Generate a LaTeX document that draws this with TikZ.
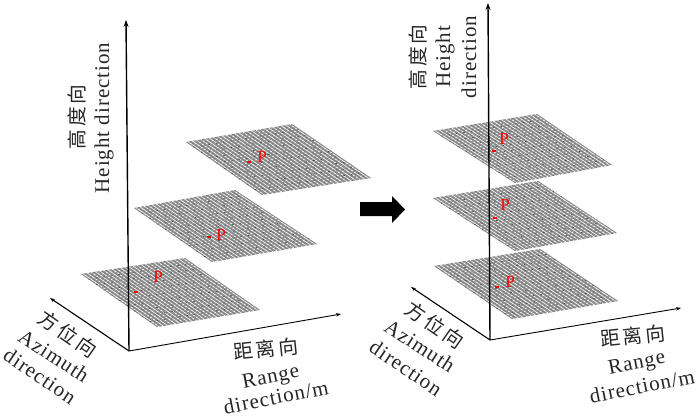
\documentclass[tikz,border=0pt]{standalone}
\usepackage{fontspec}
\setmainfont{Liberation Serif}[LetterSpace=4.5]
\newfontfamily\cjk{Noto Sans CJK SC}[Scale=0.94]
\newcommand{\cjkgap}{\kern3pt\relax}
\usetikzlibrary{arrows.meta,calc}
\tikzset{
  axisline/.style={draw=black,line width=1.4pt,-{Stealth[length=7pt,width=5pt]}},
  thinaxis/.style={draw=black,line width=#1,-{Stealth[length=5pt,width=3.5pt]}},
  lbl/.style={font=\fontsize{21}{24}\selectfont,inner sep=0pt,align=center,text=black!85},
  redp/.style={font=\fontsize{17}{17}\selectfont,text=red,inner sep=0pt},
  reddot/.style={fill=red,draw=none,inner sep=0pt,minimum width=4.5pt,minimum height=1.8pt,rectangle}
}
\newcommand{\meshplane}[4]{%
  \fill[black!50] (#1)--(#2)--(#3)--(#4)--cycle;
  \foreach \t in {0.02,0.06,...,1}{%
    \draw[white,line width=.85pt] ($(#1)!\t!(#2)$)--($(#4)!\t!(#3)$);
  }
  \foreach \t in {0.02,0.06,...,1}{%
    \draw[black!40,line width=.6pt] ($(#1)!\t!(#4)$)--($(#2)!\t!(#3)$);
  }
  \foreach \t in {0.1,0.2,...,0.95}{%
    \draw[black!80,line width=.5pt,dash pattern=on 1.5pt off 6pt] ($(#1)!\t!(#4)$)--($(#2)!\t!(#3)$);
  }
}
\begin{document}
\begin{tikzpicture}[x=1pt,y=-1pt]
\useasboundingbox (0,0) rectangle (700,415);
% left planes
\meshplane{81,274}{185,258}{260,310}{157,327}
\meshplane{134,208}{235,190}{317,244}{212,262}
\meshplane{186,142}{292,124}{371,178}{262,195}
% right planes
\meshplane{433,131}{537,114}{612,165}{515,183}
\meshplane{433,198}{538,181}{617,233}{515,251}
\meshplane{434,266}{540,249}{618,301}{512,319}
% left axes
\coordinate (oL) at (129,351);
\coordinate (hL) at (126,20);
\coordinate (aL) at (50,298);
\coordinate (rL) at (341,314);
\draw[axisline] (oL)--(hL);
\draw[thinaxis=1.1pt] (oL)--(aL);
\draw[thinaxis=.9pt] (oL)--(rL);
% right axes
\coordinate (oR) at (490,340);
\coordinate (hR) at (488,3);
\coordinate (aR) at (411,287);
\coordinate (rR) at (681,308);
\draw[axisline] (oR)--(hR);
\draw[thinaxis=1.1pt] (oR)--(aR);
\draw[thinaxis=.9pt] (oR)--(rR);
% points left
\node[reddot] (p1) at (136,292) {};
\node[redp] (P1) at (158,277) {P};
\node[reddot] (p2) at (209,237) {};
\node[redp] (P2) at (221,235) {P};
\node[reddot] (p3) at (249,162) {};
\node[redp] (P3) at (262,157) {P};
% points right
\node[reddot] (p4) at (494,151) {};
\node[redp] (P4) at (504,139) {P};
\node[reddot] (p5) at (495,218) {};
\node[redp] (P5) at (505,205) {P};
\node[reddot] (p6) at (497,287) {};
\node[redp] (P6) at (510,282) {P};
% big arrow
\fill[black] (360,202)--(392,202)--(392,196)--(405,209.5)--(392,223)--(392,216)--(360,216)--cycle;
% labels left
\node[lbl,rotate=90] (hL1) at (77,117) {{\cjk 高\cjkgap 度\cjkgap 向}};
\node[lbl,rotate=90] (hL2) at (104,118) {Height direction};
\node[lbl,rotate=-35] (aL1) at (68,334) {{\cjk 方\cjkgap 位\cjkgap 向}};
\node[lbl,rotate=-33] (aL2) at (54,356) {Azimuth};
\node[lbl,rotate=-34] (aL3) at (40,376) {direction};
\node[lbl,rotate=6] (rL1) at (266,349) {{\cjk 距\cjkgap 离\cjkgap 向}};
\node[lbl,rotate=11] (rL2) at (271,378) {Range};
\node[lbl,rotate=11] (rL3) at (276,397) {direction/m};
% labels right
\node[lbl,rotate=90] (hR1) at (418,57) {{\cjk 高\cjkgap 度\cjkgap 向}};
\node[lbl,rotate=90] (hR2) at (445,57) {Height};
\node[lbl,rotate=90] (hR3) at (469,57) {direction};
\node[lbl,rotate=-35] (aR1) at (435,325) {{\cjk 方\cjkgap 位\cjkgap 向}};
\node[lbl,rotate=-33] (aR2) at (420,346) {Azimuth};
\node[lbl,rotate=-34] (aR3) at (406,368) {direction};
\node[lbl,rotate=6] (rR1) at (633,336) {{\cjk 距\cjkgap 离\cjkgap 向}};
\node[lbl,rotate=11] (rR2) at (637,364) {Range};
\node[lbl,rotate=11] (rR3) at (642,386) {direction/m};
\end{tikzpicture}
\end{document}
